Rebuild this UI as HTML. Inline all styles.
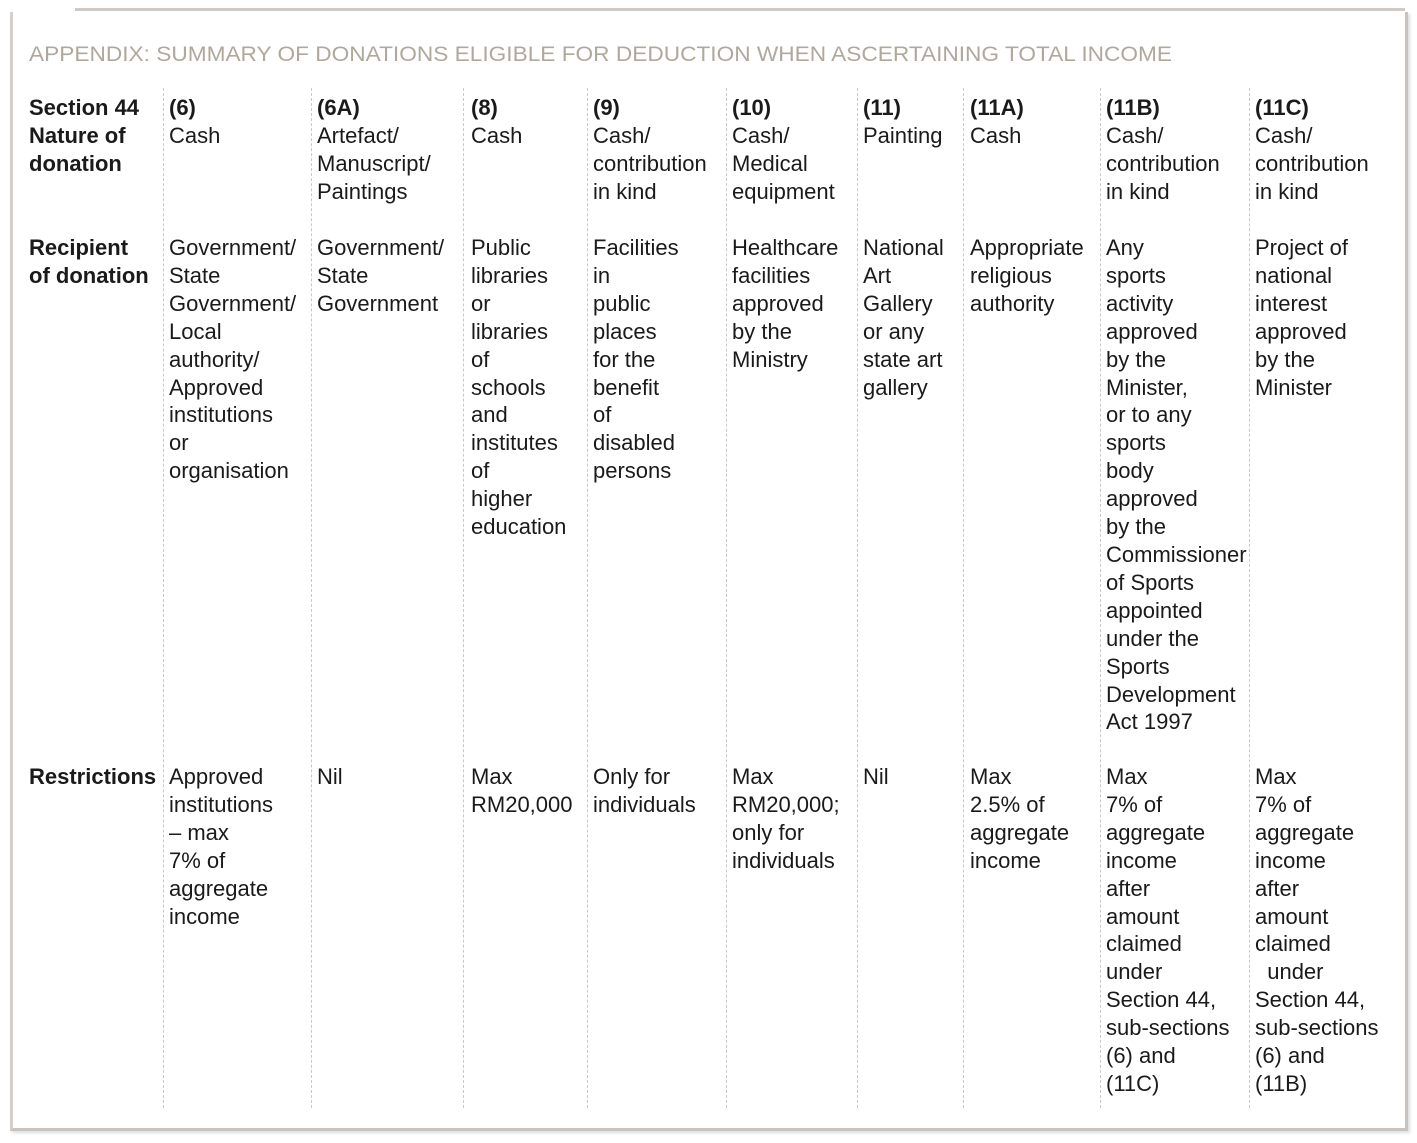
<!DOCTYPE html>
<html><head><meta charset="utf-8"><style>
body{margin:0;width:1417px;height:1143px;background:#fff;position:relative;overflow:hidden;font-family:"Liberation Sans",sans-serif;color:#1a1a1a}
.frame{position:absolute;left:10px;top:12px;width:1392px;height:1116px;border-left:3px solid #d3cfca;border-right:3px solid #c9c4bf;border-bottom:3px solid #c9c4bf;box-shadow:2px 2px 3px #ddd}
.topl{position:absolute;left:75px;top:8px;width:1330px;height:3px;background:#cfcac5}
.c{position:absolute;font-size:22px;line-height:27.9px;white-space:nowrap}
.b{font-weight:bold}
.v{position:absolute;top:88px;height:1020px;border-left:1px dashed #c8c8c8}
</style></head><body>
<div class="frame"></div><div class="topl"></div>
<svg style="position:absolute;left:0;top:0" width="1417" height="80"><text x="29" y="61" font-family="Liberation Sans" font-size="21" fill="#b0a89c" textLength="1143" lengthAdjust="spacingAndGlyphs">APPENDIX: SUMMARY OF DONATIONS ELIGIBLE FOR DEDUCTION WHEN ASCERTAINING TOTAL INCOME</text></svg>
<div class="v" style="left:163px"></div><div class="v" style="left:311px"></div><div class="v" style="left:463px"></div><div class="v" style="left:587px"></div><div class="v" style="left:726px"></div><div class="v" style="left:857px"></div><div class="v" style="left:963px"></div><div class="v" style="left:1100px"></div><div class="v" style="left:1249px"></div>

<div class="c b" style="left:29px;top:94px">Section 44<br>Nature of<br>donation</div>
<div class="c" style="left:169px;top:94px"><b>(6)</b><br>Cash</div>
<div class="c" style="left:317px;top:94px"><b>(6A)</b><br>Artefact/<br>Manuscript/<br>Paintings</div>
<div class="c" style="left:471px;top:94px"><b>(8)</b><br>Cash</div>
<div class="c" style="left:593px;top:94px"><b>(9)</b><br>Cash/<br>contribution<br>in kind</div>
<div class="c" style="left:732px;top:94px"><b>(10)</b><br>Cash/<br>Medical<br>equipment</div>
<div class="c" style="left:863px;top:94px"><b>(11)</b><br>Painting</div>
<div class="c" style="left:970px;top:94px"><b>(11A)</b><br>Cash</div>
<div class="c" style="left:1106px;top:94px"><b>(11B)</b><br>Cash/<br>contribution<br>in kind</div>
<div class="c" style="left:1255px;top:94px"><b>(11C)</b><br>Cash/<br>contribution<br>in kind</div>

<div class="c b" style="left:29px;top:234px">Recipient<br>of donation</div>
<div class="c" style="left:169px;top:234px">Government/<br>State<br>Government/<br>Local<br>authority/<br>Approved<br>institutions<br>or<br>organisation</div>
<div class="c" style="left:317px;top:234px">Government/<br>State<br>Government</div>
<div class="c" style="left:471px;top:234px">Public<br>libraries<br>or<br>libraries<br>of<br>schools<br>and<br>institutes<br>of<br>higher<br>education</div>
<div class="c" style="left:593px;top:234px">Facilities<br>in<br>public<br>places<br>for the<br>benefit<br>of<br>disabled<br>persons</div>
<div class="c" style="left:732px;top:234px">Healthcare<br>facilities<br>approved<br>by the<br>Ministry</div>
<div class="c" style="left:863px;top:234px">National<br>Art<br>Gallery<br>or any<br>state art<br>gallery</div>
<div class="c" style="left:970px;top:234px">Appropriate<br>religious<br>authority</div>
<div class="c" style="left:1106px;top:234px">Any<br>sports<br>activity<br>approved<br>by the<br>Minister,<br>or to any<br>sports<br>body<br>approved<br>by the<br>Commissioner<br>of Sports<br>appointed<br>under the<br>Sports<br>Development<br>Act 1997</div>
<div class="c" style="left:1255px;top:234px">Project of<br>national<br>interest<br>approved<br>by the<br>Minister</div>

<div class="c b" style="left:29px;top:763px">Restrictions</div>
<div class="c" style="left:169px;top:763px">Approved<br>institutions<br>– max<br>7% of<br>aggregate<br>income</div>
<div class="c" style="left:317px;top:763px">Nil</div>
<div class="c" style="left:471px;top:763px">Max<br>RM20,000</div>
<div class="c" style="left:593px;top:763px">Only for<br>individuals</div>
<div class="c" style="left:732px;top:763px">Max<br>RM20,000;<br>only for<br>individuals</div>
<div class="c" style="left:863px;top:763px">Nil</div>
<div class="c" style="left:970px;top:763px">Max<br>2.5% of<br>aggregate<br>income</div>
<div class="c" style="left:1106px;top:763px">Max<br>7% of<br>aggregate<br>income<br>after<br>amount<br>claimed<br>under<br>Section 44,<br>sub-sections<br>(6) and<br>(11C)</div>
<div class="c" style="left:1255px;top:763px">Max<br>7% of<br>aggregate<br>income<br>after<br>amount<br>claimed<br>&nbsp;&nbsp;under<br>Section 44,<br>sub-sections<br>(6) and<br>(11B)</div>
</body></html>
